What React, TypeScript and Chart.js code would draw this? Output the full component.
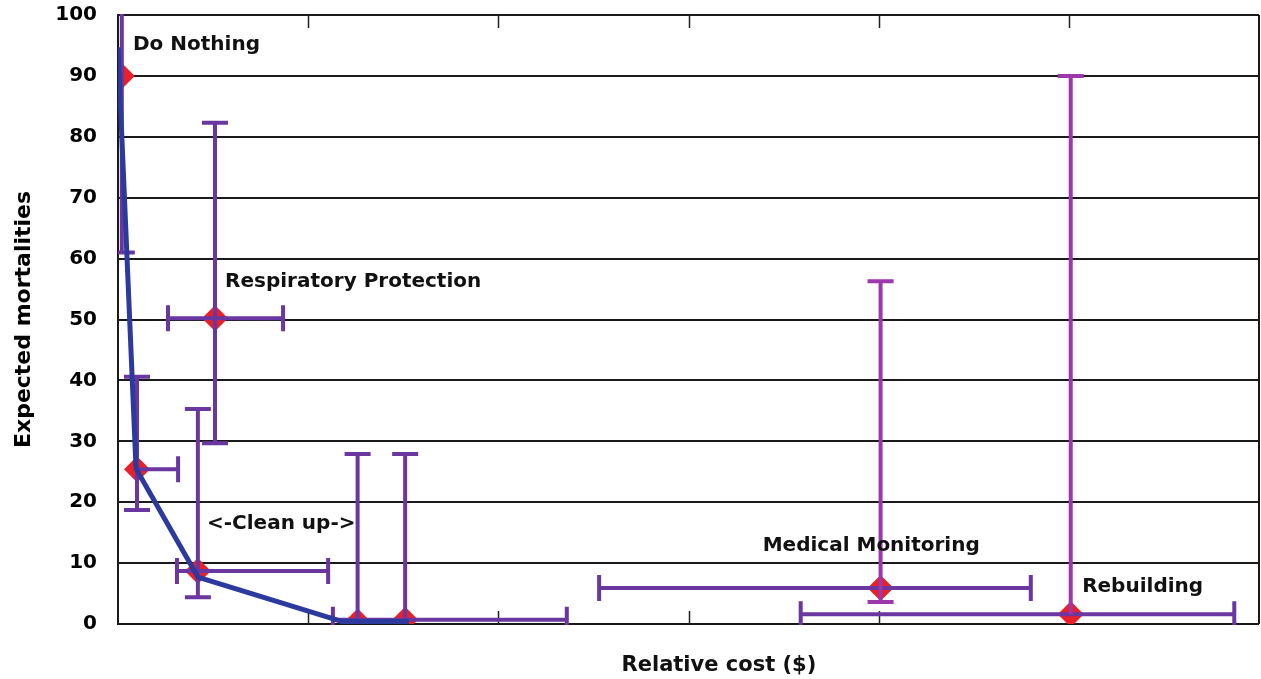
import React, { useEffect, useRef } from "react";
import { Chart, registerables } from "chart.js";

Chart.register(...registerables);

// Options (red diamonds): relative cost vs expected mortalities
const pointX = [0.02, 0.1, 0.51, 0.42, 1.26, 1.51, 4.01, 5.01];
const pointY = [90, 25.4, 50.2, 8.7, 0.4, 0.7, 5.9, 1.6];
// Error ranges
const errYLow: (number | null)[] = [61, 18.7, 29.7, 4.4, null, null, 3.6, null];
const errYHigh: (number | null)[] = [104, 40.6, 82.3, 35.3, 27.9, 27.9, 56.3, 90];
const errXLow: (number | null)[] = [null, null, 0.263, 0.31, null, 1.13, 2.53, 3.59];
const errXHigh: (number | null)[] = [null, 0.316, 0.868, 1.105, null, 2.36, 4.8, 5.87];
// Efficient frontier (blue line)
const frontierX = [0, 0.095, 0.42, 1.18, 1.53];
const frontierY = [94.7, 25.5, 7.7, 0.4, 0.4];
// Annotations
const labelTexts = ["Do Nothing", "Respiratory Protection", "<-Clean up->", "Medical Monitoring", "Rebuilding"];
const labelX = [0.079, 0.563, 0.468, 3.39, 5.07];
const labelY = [95.1, 56.2, 16.4, 12.8, 6.1];
// Axes
const xTickValues = [1, 2, 3, 4, 5];
const yTickStep = 10;
const xTitle = "Relative cost ($)";
const xTitlePos = 3.16;
const yTitle = "Expected mortalities";

const FONT = "'DejaVu Sans', 'Liberation Sans', Arial, sans-serif";

const framePlugin = {
  id: "frame",
  beforeDatasetsDraw(chart: any) {
    const { ctx, chartArea: a, scales } = chart;
    ctx.save();
    ctx.strokeStyle = "#222";
    ctx.lineWidth = 1.5;
    xTickValues.forEach((v) => {
      const px = Math.round(scales.x.getPixelForValue(v)) + 0.5;
      ctx.beginPath();
      ctx.moveTo(px, a.top);
      ctx.lineTo(px, a.top + 13);
      ctx.moveTo(px, a.bottom);
      ctx.lineTo(px, a.bottom - 13);
      ctx.stroke();
    });
    ctx.strokeStyle = "#1a1a1a";
    ctx.lineWidth = 2;
    ctx.beginPath();
    ctx.moveTo(a.right, a.top);
    ctx.lineTo(a.right, a.bottom);
    ctx.stroke();
    ctx.restore();
  },
};

const errorBarPlugin = {
  id: "errorBars",
  afterDatasetDraw(chart: any, args: any) {
    if (args.index !== 0) return;
    const { ctx, chartArea: a, scales } = chart;
    const xs = scales.x;
    const ys = scales.y;
    const cap = 13;
    ctx.save();
    ctx.beginPath();
    ctx.rect(a.left, a.top - 1, a.right - a.left, a.bottom - a.top + 2);
    ctx.clip();
    ctx.lineWidth = 4;
    ctx.lineCap = "butt";
    const seg = (x1: number, y1: number, x2: number, y2: number) => {
      ctx.moveTo(x1, y1);
      ctx.lineTo(x2, y2);
    };
    pointX.forEach((xv, i) => {
      const px = xs.getPixelForValue(xv);
      const py = ys.getPixelForValue(pointY[i]);
      ctx.strokeStyle = "#6a36a0";
      [errXLow[i], errXHigh[i]].forEach((v) => {
        if (v === null) return;
        const p = xs.getPixelForValue(v);
        ctx.beginPath();
        seg(px, py, p, py);
        seg(p, py - cap, p, py + cap);
        ctx.stroke();
      });
      ctx.strokeStyle = i >= 6 ? "#9b38ab" : "#6a36a0";
      [errYLow[i], errYHigh[i]].forEach((v) => {
        if (v === null) return;
        const p = ys.getPixelForValue(v);
        ctx.beginPath();
        seg(px, py, px, p);
        seg(px - cap, p, px + cap, p);
        ctx.stroke();
      });
    });
    ctx.restore();
  },
};

const labelPlugin = {
  id: "labels",
  afterDraw(chart: any) {
    const { ctx, chartArea: a, scales } = chart;
    ctx.save();
    ctx.fillStyle = "#111";
    ctx.font = `bold 20px ${FONT}`;
    ctx.textAlign = "left";
    ctx.textBaseline = "middle";
    labelTexts.forEach((t, i) => {
      ctx.fillText(t, scales.x.getPixelForValue(labelX[i]), scales.y.getPixelForValue(labelY[i]));
    });
    ctx.font = `bold 21px ${FONT}`;
    ctx.textAlign = "center";
    ctx.fillText(xTitle, scales.x.getPixelForValue(xTitlePos), a.bottom + 42);
    ctx.restore();
  },
};

const zeroPad = (s: any) => {
  s.paddingTop = 0;
  s.paddingBottom = 0;
  s.paddingLeft = 0;
  s.paddingRight = 0;
};

export default function App() {
  const ref = useRef<HTMLCanvasElement>(null);
  useEffect(() => {
    document.body.style.margin = "0";
    const chart = new Chart(ref.current as HTMLCanvasElement, {
      type: "scatter",
      data: {
        datasets: [
          {
            label: "Options",
            data: pointX.map((x, i) => ({ x, y: pointY[i] })),
            pointStyle: "rectRot",
            pointRadius: 13,
            pointHoverRadius: 13,
            backgroundColor: "#e8202a",
            borderWidth: 0,
            showLine: false,
            order: 2,
          } as any,
          {
            label: "Frontier",
            data: frontierX.map((x, i) => ({ x, y: frontierY[i] })),
            showLine: true,
            borderColor: "#2c3a9e",
            borderWidth: 5,
            pointRadius: 0,
            pointHoverRadius: 0,
            tension: 0,
            borderJoinStyle: "round",
            order: 1,
          } as any,
        ],
      },
      options: {
        responsive: false,
        animation: false,
        events: [],
        layout: { autoPadding: false, padding: { top: 15, right: 2, left: 0, bottom: 0 } },
        plugins: { legend: { display: false }, tooltip: { enabled: false } },
        scales: {
          x: {
            type: "linear",
            min: 0,
            max: 6,
            ticks: { display: false, stepSize: 1 },
            grid: { display: false },
            border: { display: false },
            afterFit: (s: any) => {
              s.height = 55;
              zeroPad(s);
            },
          },
          y: {
            min: 0,
            max: 100,
            ticks: {
              stepSize: yTickStep,
              color: "#000",
              padding: 21,
              font: { family: FONT, weight: "bold", size: 20 },
            },
            grid: { color: "#1a1a1a", lineWidth: 2, drawTicks: false },
            border: { color: "#1a1a1a", width: 2 },
            title: {
              display: true,
              text: yTitle,
              color: "#000",
              font: { family: FONT, weight: "bold", size: 22 },
              padding: { top: 11, bottom: 0 },
            },
            afterFit: (s: any) => {
              s.width = 118;
              zeroPad(s);
            },
          },
        },
      } as any,
      plugins: [framePlugin, errorBarPlugin, labelPlugin],
    });
    return () => chart.destroy();
  }, []);
  return <canvas ref={ref} width={1261} height={679} style={{ display: "block" }} />;
}
